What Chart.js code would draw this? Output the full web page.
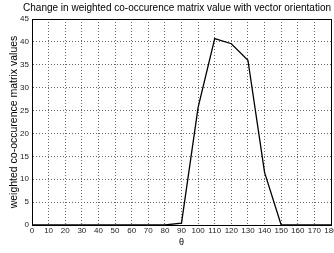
<!DOCTYPE html>
<html>
<head>
<meta charset="utf-8">
<script src="https://cdn.jsdelivr.net/npm/chart.js@4.4.1/dist/chart.umd.min.js"></script>
<style>
  html, body { margin: 0; padding: 0; background: #fff; }
  #wrap { width: 334px; height: 253px; }
</style>
</head>
<body>
<div id="wrap"><canvas id="chart" width="334" height="253"></canvas></div>
<script>
// orientation angle (degrees)
const angles = [0, 10, 20, 30, 40, 50, 60, 70, 80, 90, 100, 110, 120, 130, 140, 150, 160, 170, 180];
// weighted co-occurence matrix value at each angle
const cooccurValues = [0, 0, 0, 0, 0, 0, 0, 0, 0, 0.4, 25.7, 40.7, 39.6, 36.0, 11.5, 0, 0, 0, 0];

const xTicks = [0, 10, 20, 30, 40, 50, 60, 70, 80, 90, 100, 110, 120, 130, 140, 150, 160, 170, 180];
const yTicks = [0, 5, 10, 15, 20, 25, 30, 35, 40, 45];

const fontFamily = 'Liberation Sans, Arial, sans-serif';
const tickFont = { family: fontFamily, size: 8 };
// matlab style dotted grid
const gridStyle = { color: '#666', lineWidth: 1, drawTicks: false };
const borderStyle = { display: true, color: '#000', dash: [1, 2] };

// solid box round the plot area, like matlab axes
const boxPlugin = {
    id: 'box',
    afterDraw: function(chart) {
        const a = chart.chartArea;
        const ctx = chart.ctx;
        ctx.save();
        ctx.strokeStyle = '#000';
        ctx.lineWidth = 1;
        ctx.setLineDash([]);
        ctx.strokeRect(Math.round(a.left) + 0.5, Math.round(a.top) + 0.5,
            Math.round(a.right - a.left), Math.round(a.bottom - a.top));
        ctx.restore();
    }
};

const data = {
    datasets: [{
        label: 'co-occurence',
        data: angles.map((a, i) => ({ x: a, y: cooccurValues[i] })),
        borderColor: '#000',
        borderWidth: 1.3,
        pointRadius: 0,
        tension: 0,
        fill: false
    }]
};

const config = {
    type: 'line',
    data,
    plugins: [boxPlugin],
    options: {
        responsive: false,
        animation: false,
        layout: { padding: { left: 0, right: 3, top: 0, bottom: 0 } },
        plugins: {
            legend: { display: false },
            tooltip: { enabled: false },
            title: {
                display: true,
                text: 'Change in weighted co-occurence matrix value with vector orientation',
                color: '#000',
                font: { family: fontFamily, size: 10, weight: 'normal' },
                padding: { top: 2, bottom: 5 },
                align: 'end'
            }
        },
        scales: {
            x: {
                type: 'linear',
                min: 0,
                max: 180,
                afterBuildTicks: function(scale) {
                    scale.ticks = xTicks.map(v => ({ value: v }));
                },
                afterFit: function(scale) {
                    scale.height = 28;
                    scale.paddingLeft = 0;
                    scale.paddingRight = 0;
                },
                ticks: { color: '#222', font: tickFont, padding: 1, maxRotation: 0, autoSkip: false },
                grid: gridStyle,
                border: borderStyle,
                title: {
                    display: true,
                    text: 'θ',
                    color: '#000',
                    font: { family: fontFamily, size: 9 },
                    padding: { top: 0, bottom: 5 }
                }
            },
            y: {
                type: 'linear',
                min: 0,
                max: 45,
                afterBuildTicks: function(scale) {
                    scale.ticks = yTicks.map(v => ({ value: v }));
                },
                afterFit: function(scale) {
                    scale.width = 32;
                    scale.paddingTop = 0;
                    scale.paddingBottom = 0;
                },
                ticks: { color: '#222', font: tickFont, padding: 3 },
                grid: gridStyle,
                border: borderStyle,
                title: {
                    display: true,
                    text: 'weighted co-occurence matrix values',
                    color: '#000',
                    font: { family: fontFamily, size: 10.5 },
                    padding: { top: 8, bottom: 0 }
                }
            }
        }
    }
};

new Chart(document.getElementById('chart'), config);
</script>
</body>
</html>
